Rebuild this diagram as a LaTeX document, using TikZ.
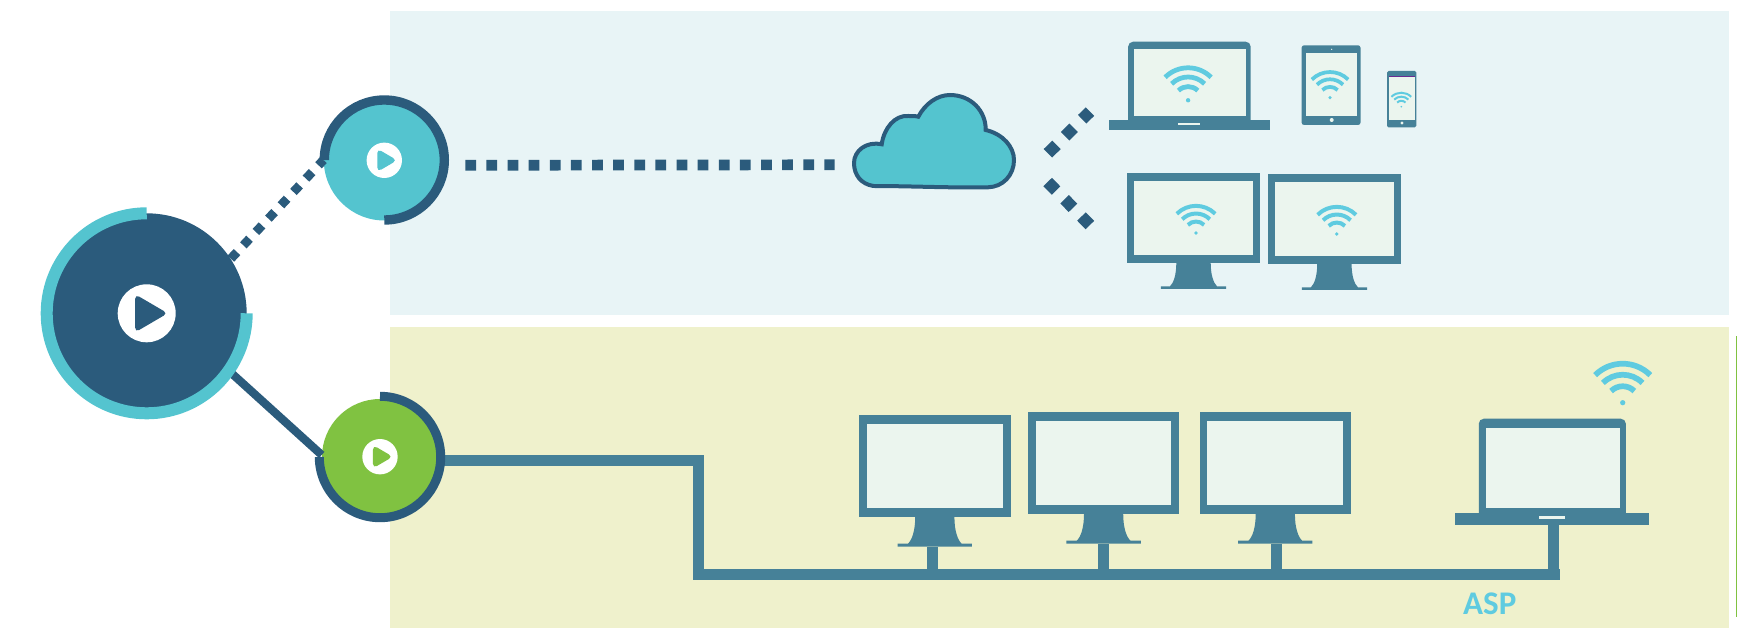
\documentclass[tikz,border=0pt]{standalone}
\usepackage{fontspec}
\newfontfamily\labelfont{Carlito}
\usetikzlibrary{calc}
\definecolor{hubnavy}{HTML}{2B5B7C}
\definecolor{cyanfill}{HTML}{54C4CF}
\definecolor{greenfill}{HTML}{80C241}
\definecolor{devblue}{HTML}{468198}
\definecolor{screenpale}{HTML}{EBF5EE}
\definecolor{wifiblue}{HTML}{5FCBE0}
\definecolor{panelblue}{HTML}{E8F4F6}
\definecolor{panelyellow}{HTML}{EFF1CC}
\definecolor{phonebar}{HTML}{6A2C91}
\tikzset{
  disc/.style={circle, inner sep=0pt},
  wire/.style={devblue, line width=0.22cm},
  squaredots/.style={hubnavy, line width=0.214cm, dash pattern=on 0.214cm off 0.2086cm},
  slantdots/.style={hubnavy, line width=0.18cm, dash pattern=on 0.18cm off 0.186cm},
  fandots/.style={hubnavy, line width=0.24cm, dash pattern=on 0.24cm off 0.243cm},
  playmark/.pic={
    \fill[white] (0,0) circle (29);
    \fill[#1, rounded corners=0.09cm] (-11.5,19) -- (21,0) -- (-11.5,-19) -- cycle;
  },
  wifimark/.pic={
    \fill[wifiblue] (0,0) circle (2.2);
    \draw[wifiblue, line width=#1] (45:13.7) arc[start angle=45, end angle=135, radius=13.7];
    \draw[wifiblue, line width=#1] (45:23.3) arc[start angle=45, end angle=135, radius=23.3];
    \draw[wifiblue, line width=#1] (45:32.5) arc[start angle=45, end angle=135, radius=32.5];
  },
  laptop/.pic={
    \fill[devblue] (-80.7,0) rectangle (80.7,9.7);
    \fill[devblue, rounded corners=0.1cm] (-61.3,5) -- (-61.3,88.3) -- (61.3,88.3) -- (61.3,5) -- cycle;
    \fill[screenpale] (-55.4,14) rectangle (56.1,81);
    \fill[screenpale] (-11.5,5) rectangle (10.6,7);
    \coordinate (-foot) at (0,0);
    \coordinate (-side) at (-61.3,56.3);
  },
  monitor/.pic={
    \fill[devblue] (-66.4,26) rectangle (66.4,115.7);
    \fill[screenpale] (-59.5,34) rectangle (59.5,108);
    \fill[devblue] (-17.2,26) .. controls (-17.2,14) and (-20,6) .. (-23.5,2.7) -- (-32.6,2.7)
      -- (-32.6,0) -- (32.6,0) -- (32.6,2.7) -- (23.5,2.7) .. controls (20,6) and (17.2,14) .. (17.2,26) -- cycle;
    \coordinate (-foot) at (0,0);
    \coordinate (-corner) at (-66.4,26);
  }
}

\begin{document}
\begin{tikzpicture}[x=0.02cm, y=0.02cm]
\useasboundingbox (0,0) rectangle (1737,643);

% Panels
\fill[panelblue] (390,328) rectangle (1729,632);
\fill[panelyellow] (390,15.3) rectangle (1729,316.3);
\draw[greenfill, line width=0.024cm] (1736.2,307) -- (1736.2,26);

% Round nodes
\node[disc, fill=hubnavy, minimum size=4cm] (hub) at (146.7,329.7) {};
\node[disc, fill=cyanfill, minimum size=2.42cm] (stream) at (384.3,483) {};
\node[disc, fill=greenfill, minimum size=2.32cm] (local) at (380,186) {};

% Cloud
\node[minimum width=3.274cm, minimum height=1.914cm, inner sep=0pt] (cloud) at (933.9,501.8) {};
\draw[hubnavy, fill=cyanfill, line width=0.08cm] (873.3,457) .. controls (861,459) and (854,468) .. (854,480)
  .. controls (854,492) and (866,502) .. (881.7,498.7)
  .. controls (884,515) and (895,528) .. (908,527)
  .. controls (912,527) and (916,527) .. (918.3,526.3)
  .. controls (925,539) and (937,548) .. (950,548)
  .. controls (971,548) and (986,532) .. (985.7,513)
  .. controls (1003,509) and (1014,496) .. (1014,483)
  .. controls (1014,468) and (1003,456) .. (988,455.7)
  .. controls (950,455) and (910,457) .. (873.3,457) -- cycle;

% Upper devices
\pic (laptopA) at (1189.4,513) {laptop};
\pic (monitorA) at (1193.5,354) {monitor};
\pic (monitorB) at (1334.4,353) {monitor};

% Tablet
\fill[devblue, rounded corners=0.05cm] (1301.6,518) rectangle (1360.5,597.7);
\fill[screenpale] (1306,527) rectangle (1357,590);
\fill[screenpale] (1331.7,523) circle (2);
\fill[screenpale] (1331.7,593.7) circle (0.7);

% Phone
\fill[devblue, rounded corners=0.03cm] (1387,515.7) rectangle (1416.3,572);
\fill[screenpale] (1389,523) rectangle (1415,566.3);
\fill[phonebar] (1389,566.3) rectangle (1415,567);
\fill[screenpale] (1402,520) circle (1.7);

% Lower devices
\pic[scale=1.14] (monitorC) at (934.8,96.3) {monitor};
\pic[scale=1.14] (monitorD) at (1103.6,99.3) {monitor};
\pic[scale=1.14] (monitorE) at (1275.3,99.3) {monitor};
\pic[scale=1.2] (laptopB) at (1552.3,118.3) {laptop};

% Wifi marks
\pic (wifiA) at (1188.1,542.7) {wifimark=0.095cm};
\pic[scale=0.79] (wifiB) at (1330,545.3) {wifimark=0.075cm};
\pic[scale=0.43] (wifiC) at (1401.3,536.3) {wifimark=0.04cm};
\pic[scale=0.835] (wifiD) at (1196,410) {wifimark=0.08cm};
\pic[scale=0.835] (wifiE) at (1336.8,409) {wifimark=0.08cm};
\pic[scale=1.2] (wifiF) at (1622.7,240.3) {wifimark=0.114cm};

% Connectors
\draw[slantdots] (hub.33) -- (stream.180);
\draw[hubnavy, line width=0.165cm] (hub.-35.5) -- (local.178);
\draw[squaredots, shorten <=0.408cm, shorten >=0.34cm] (stream.-5.4) -- (cloud.196.2);
\draw[fandots, shorten <=0.898cm, shorten >=1.076cm] (cloud.-28.7) -- (laptopA-side);
\draw[fandots, shorten <=0.902cm, shorten >=1.056cm] (cloud.-6.6) -- (monitorA-corner);

% Wired network
\coordinate (busL) at (698.5,68.5);
\coordinate (busR) at (1560,68.5);
\draw[wire] (local.-3.4) -| (busL) -- (busR);
\draw[wire] ([xshift=-0.044cm]monitorC-foot) -- ([xshift=-0.044cm]monitorC-foot |- busL);
\draw[wire] (monitorD-foot) -- (monitorD-foot |- busL);
\draw[wire] ([xshift=0.024cm]monitorE-foot) -- ([xshift=0.024cm]monitorE-foot |- busL);
\draw[wire] ([xshift=0.024cm]laptopB-foot) -- ([xshift=0.024cm]laptopB-foot |- busL);

% Rings
\draw[cyanfill, line width=0.24cm] (hub.center) ++(90:100) arc[start angle=90, end angle=360, radius=100];
\draw[hubnavy, line width=0.188cm] (stream.center) ++(-90:60) arc[start angle=-90, end angle=180, radius=60];
\draw[hubnavy, line width=0.18cm] (local.center) ++(90:60.7) arc[start angle=90, end angle=-180, radius=60.7];

% Play marks
\pic (playHub) at (hub) {playmark=hubnavy};
\pic[scale=0.61] (playStream) at (384.3,482.7) {playmark=cyanfill};
\pic[scale=0.61] (playLocal) at (380,186.3) {playmark=greenfill};

\node[font=\labelfont\bfseries\fontsize{18.8}{20}\selectfont, text=wifiblue, inner sep=0pt] (asp) at (1489.7,39.7) {ASP};

\end{tikzpicture}
\end{document}
